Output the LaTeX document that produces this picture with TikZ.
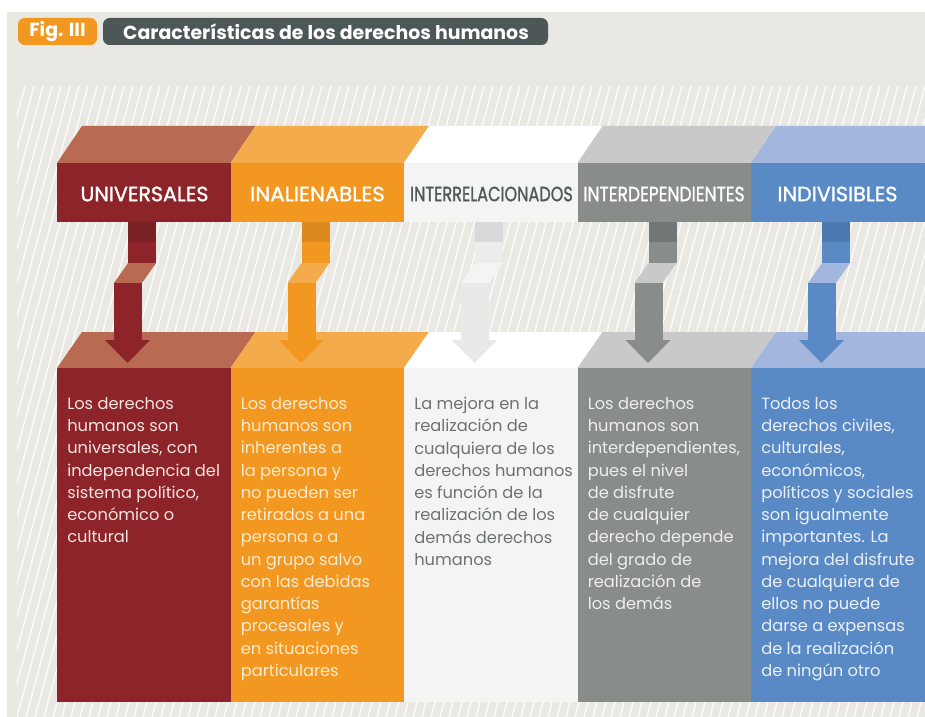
\documentclass[tikz,border=0pt]{standalone}
\usepackage{fontspec}
\setmainfont{Poppins}
\newfontfamily\hdrfont[FakeBold=1.3]{Poppins}
\definecolor{bgc}{HTML}{E9E8E3}
\definecolor{redF}{HTML}{8C2429}
\definecolor{redT}{HTML}{B86A52}
\definecolor{redD}{HTML}{7A2125}
\definecolor{orF}{HTML}{F2971F}
\definecolor{orT}{HTML}{F4AB4B}
\definecolor{orD}{HTML}{DC891F}
\definecolor{whF}{HTML}{F4F4F4}
\definecolor{whT}{HTML}{FFFFFF}
\definecolor{whD}{HTML}{D8D9DA}
\definecolor{whU}{HTML}{ECECEC}
\definecolor{whP}{HTML}{F4F4F4}
\definecolor{whL}{HTML}{E9E9E9}
\definecolor{grF}{HTML}{888C8B}
\definecolor{grT}{HTML}{C9C9C9}
\definecolor{grD}{HTML}{727677}
\definecolor{blF}{HTML}{5A8AC5}
\definecolor{blT}{HTML}{A2B6DE}
\definecolor{blD}{HTML}{4D79B0}
\definecolor{titc}{HTML}{4D5757}
\definecolor{hdrgray}{HTML}{505A58}
\definecolor{txred}{HTML}{F5E4E0}
\definecolor{txor}{HTML}{FDEBD0}
\definecolor{txwh}{HTML}{6E7371}
\definecolor{txgr}{HTML}{EEEEEE}
\definecolor{txbl}{HTML}{EAF0F8}
\newcommand\hdrtext[2]{\resizebox{#1pt}{\height}{\hdrfont #2}}
\tikzset{
  hdr/.style={font=\fontsize{15.5}{18}\selectfont, inner sep=0pt},
  body/.style={anchor=north west, align=left, inner sep=0pt,
    font=\fontsize{12.2}{16.7}\selectfont},
}
\begin{document}
\begin{tikzpicture}[x=0.75pt,y=-0.75pt]
\useasboundingbox (0,0) rectangle (925,717);
\clip (0,0) rectangle (925,717);
\fill[white] (0,0) rectangle (925,717);
\fill[bgc] (7,12) rectangle (925,717);
\begin{scope}
  \clip (17,86) rectangle (925,717);
  \foreach \i in {-20,...,102}
    \draw[white, line width=1pt, opacity=.85] (17+9*\i,717) -- ++(170,-631);
\end{scope}
% title
\fill[orF, rounded corners=5pt] (18,18) rectangle (97,45);
\node[text=white, font=\bfseries\fontsize{14.2}{16}\selectfont] (fig) at (57.5,32) {Fig. III};
\fill[titc, rounded corners=5pt] (103,18) rectangle (548,45);
\node[text=white, font=\bfseries\fontsize{14.2}{16}\selectfont] (tit) at (326,32) {Características de los derechos humanos};
% columns
\foreach \x/\F/\T/\D/\U/\P/\L in {57/redF/redT/redD/redF/redT/redF,
  230.5/orF/orT/orD/orF/orT/orF, 404/whF/whT/whD/whU/whP/whL,
  577.5/grF/grT/grD/grF/grT/grF, 751/blF/blT/blD/blF/blT/blF}{
  \fill[\T] (\x,163) -- (\x+173.5,163) -- (\x+198.5,126) -- (\x+25,126) -- cycle;
  \fill[\F] (\x,163) rectangle (\x+173.5,222);
  \fill[\T] (\x,368) -- (\x+173.5,368) -- (\x+198.5,332) -- (\x+25,332) -- cycle;
  \fill[\F] (\x,368) rectangle (\x+173.5,702);
  \fill[\U] (\x+71,222) rectangle (\x+99,263);
  \fill[\D] (\x+71,222) rectangle (\x+99,242);
  \fill[\P] (\x+71,263) -- (\x+99,263) -- (\x+85,283) -- (\x+57,283) -- cycle;
  \fill[\L] (\x+57,283) rectangle (\x+85,341);
  \fill[\L] (\x+48,340) -- (\x+93,340) -- (\x+70.5,363) -- cycle;
}
% headers
\node[hdr, text=white] (h1) at (144.5,194) {\hdrtext{96}{UNIVERSALES}};
\node[hdr, text=white] (h2) at (317.5,194) {\hdrtext{101}{INALIENABLES}};
\node[hdr, text=hdrgray] (h3) at (491.5,194) {\hdrtext{122}{INTERRELACIONADOS}};
\node[hdr, text=white] (h4) at (664,194) {\hdrtext{121}{INTERDEPENDIENTES}};
\node[hdr, text=white] (h5) at (837.5,194) {\hdrtext{90}{INDIVISIBLES}};
% bodies
\node[body, text=txred] (b1) at (67,397) {Los derechos\\humanos son\\universales, con\\independencia del\\sistema político,\\económico o\\cultural};
\node[body, text=txor] (b2) at (240.5,397) {Los derechos\\humanos son\\inherentes a\\la persona y\\no pueden ser\\retirados a una\\persona o a\\un grupo salvo\\con las debidas\\garantías\\procesales y\\en situaciones\\particulares};
\node[body, text=txwh] (b3) at (414,397) {La mejora en la\\realización de\\cualquiera de los\\derechos humanos\\es función de la\\realización de los\\demás derechos\\humanos};
\node[body, text=txgr] (b4) at (587.5,397) {Los derechos\\humanos son\\interdependientes,\\pues el nivel\\de disfrute\\de cualquier\\derecho depende\\del grado de\\realización de\\los demás};
\node[body, text=txbl] (b5) at (761,397) {Todos los\\derechos civiles,\\culturales,\\económicos,\\políticos y sociales\\son igualmente\\importantes. La\\mejora del disfrute\\de cualquiera de\\ellos no puede\\darse a expensas\\de la realización\\de ningún otro};
\end{tikzpicture}
\end{document}
